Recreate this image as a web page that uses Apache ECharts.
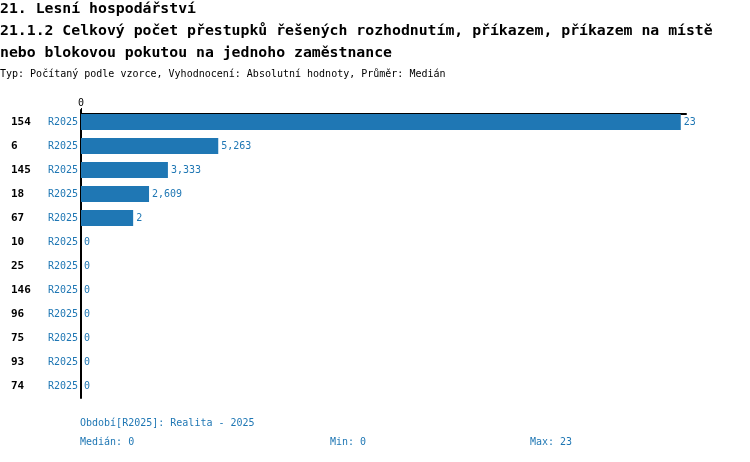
<!DOCTYPE html>
<html>
<head>
<meta charset="utf-8">
<script src="https://cdn.jsdelivr.net/npm/echarts@6/dist/echarts.min.js"></script>
<style>
  html, body { margin: 0; padding: 0; background: #fff; }
  #chart { width: 750px; height: 462px; }
</style>
</head>
<body>
<div id="chart"></div>
<script>
// data
var categories = ['154', '6', '145', '18', '67', '10', '25', '146', '96', '75', '93', '74'];
var period = 'R2025';
var values = [23, 5.263, 3.333, 2.609, 2, 0, 0, 0, 0, 0, 0, 0];
var axisTicks = [0];
var stats = { median: 0, min: 0, max: 23 };

var mono = '"DejaVu Sans Mono", "Liberation Mono", monospace';
var blue = '#1f77b4';

function czNum(v) {
    return String(v).replace('.', ',');
}

function drawChart() {
    var dom = document.getElementById('chart');
    var myChart = echarts.init(dom, null, { renderer: 'canvas' });

    var titleStyle = { fontFamily: mono, fontSize: 14.8, fontWeight: 'bold', color: '#000' };

    var option = {
        animation: false,
        title: [
            { text: '21. Lesní hospodářství', left: 0, top: 2, padding: 0, textStyle: titleStyle },
            { text: '21.1.2 Celkový počet přestupků řešených rozhodnutím, příkazem, příkazem na místě', left: 0, top: 24, padding: 0, textStyle: titleStyle },
            { text: 'nebo blokovou pokutou na jednoho zaměstnance', left: 0, top: 46, padding: 0, textStyle: titleStyle },
            {
                text: 'Typ: Počítaný podle vzorce, Vyhodnocení: Absolutní hodnoty, Průměr: Medián',
                left: 0, top: 69, padding: 0,
                textStyle: { fontFamily: mono, fontSize: 10, fontWeight: 'normal', color: '#000' }
            }
        ],
        grid: {
            left: 81,
            right: 64,
            top: 110,
            height: 288,
            containLabel: false
        },
        xAxis: {
            type: 'value',
            position: 'top',
            offset: -4,
            min: 0,
            max: 23.2,
            splitLine: { show: false },
            axisLine: { show: true, lineStyle: { color: '#000', width: 2 } },
            axisTick: {
                show: true,
                length: 6,
                customValues: axisTicks,
                lineStyle: { color: '#000', width: 1 }
            },
            axisLabel: {
                customValues: axisTicks,
                margin: 6,
                fontFamily: mono,
                fontSize: 10,
                color: '#000'
            }
        },
        yAxis: {
            type: 'category',
            data: categories,
            inverse: true,
            axisTick: { show: false },
            axisLine: { show: true, lineStyle: { color: '#000', width: 2 } },
            axisLabel: {
                margin: 3,
                formatter: function (v) {
                    return '{n|' + v + '}{r|' + period + '}';
                },
                rich: {
                    n: { width: 37, align: 'left', fontFamily: mono, fontSize: 11, fontWeight: 'bold', color: '#000' },
                    r: { align: 'right', fontFamily: mono, fontSize: 10, color: blue }
                }
            }
        },
        series: [
            {
                type: 'bar',
                data: values,
                barWidth: 16,
                itemStyle: { color: blue },
                label: {
                    show: true,
                    position: 'right',
                    distance: 3,
                    fontFamily: mono,
                    fontSize: 10,
                    color: blue,
                    formatter: function (p) { return czNum(p.value); }
                }
            }
        ],
        graphic: [
            {
                type: 'text', left: 80, top: 418,
                style: { text: 'Období[' + period + ']: Realita - 2025', font: '10px ' + mono, fill: blue }
            },
            {
                type: 'text', left: 80, top: 437,
                style: { text: 'Medián: ' + czNum(stats.median), font: '10px ' + mono, fill: blue }
            },
            {
                type: 'text', left: 330, top: 437,
                style: { text: 'Min: ' + czNum(stats.min), font: '10px ' + mono, fill: blue }
            },
            {
                type: 'text', left: 530, top: 437,
                style: { text: 'Max: ' + czNum(stats.max), font: '10px ' + mono, fill: blue }
            }
        ]
    };

    if (option && typeof option === 'object') {
        myChart.setOption(option);
    }

    window.addEventListener('resize', myChart.resize);
}

drawChart();
</script>
</body>
</html>
